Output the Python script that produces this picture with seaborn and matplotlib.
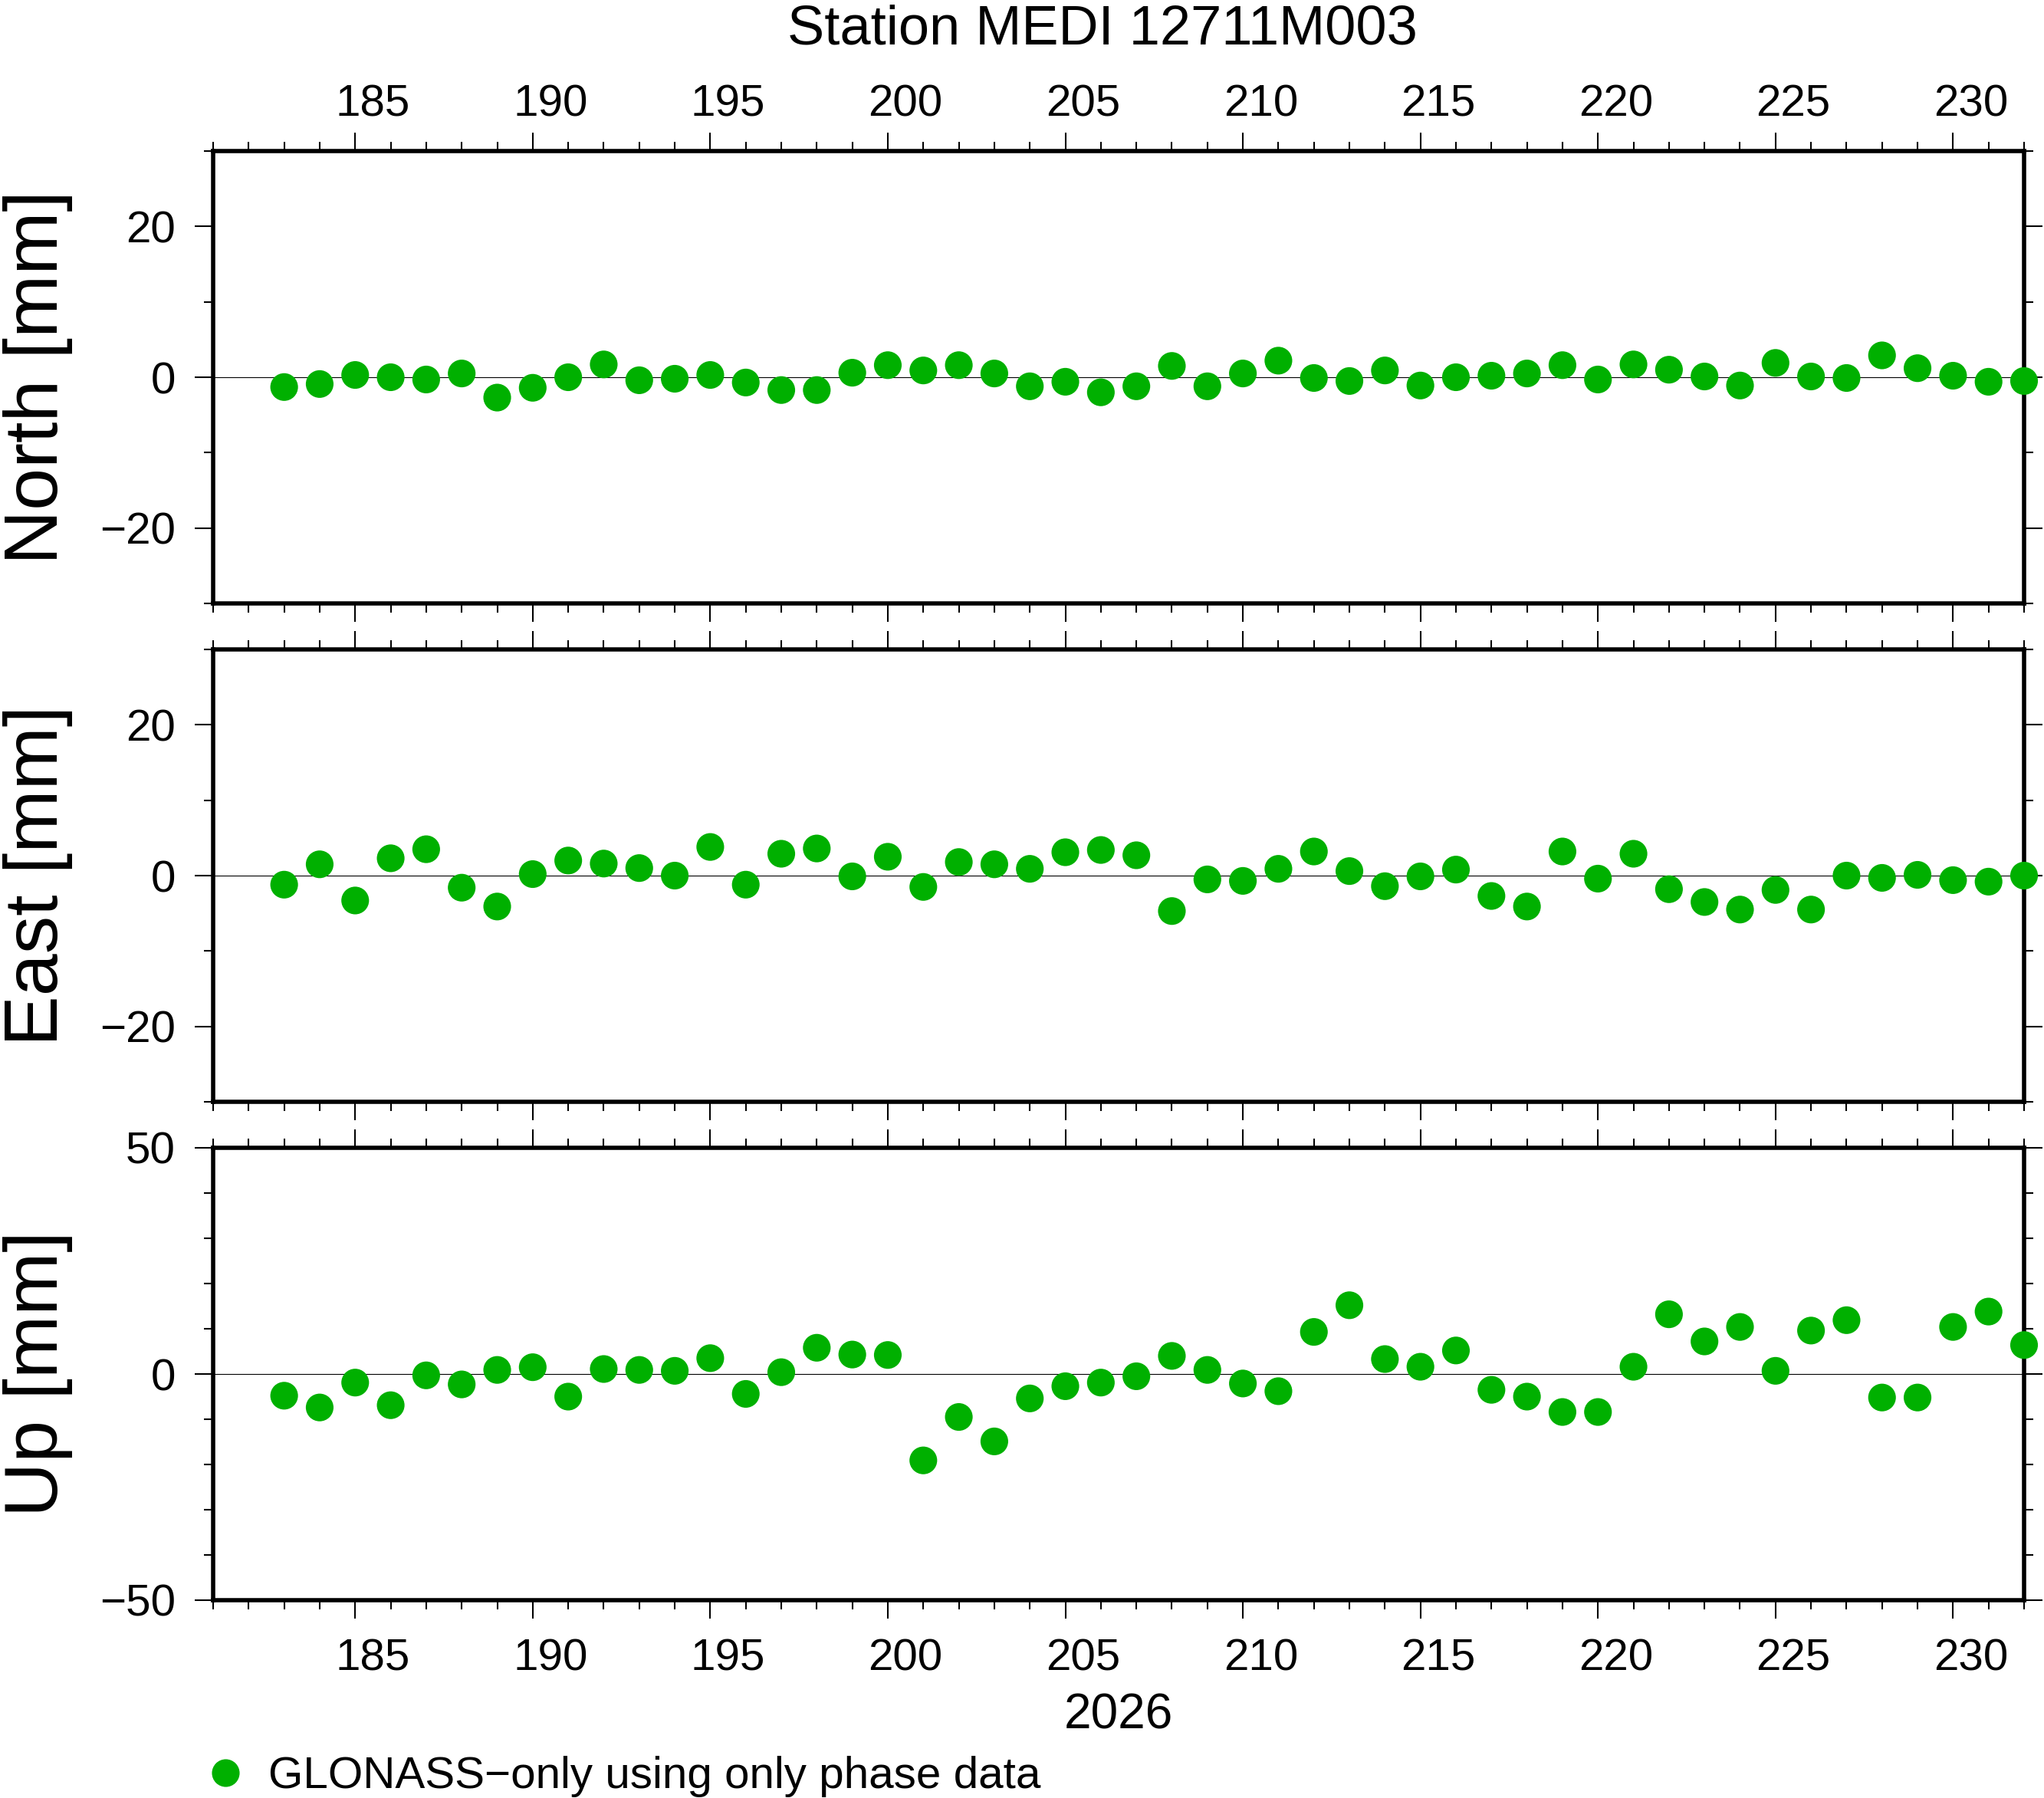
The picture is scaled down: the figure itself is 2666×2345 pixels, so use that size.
import matplotlib
matplotlib.use("Agg")
import matplotlib.pyplot as plt
from matplotlib.ticker import MultipleLocator
from matplotlib.lines import Line2D
from matplotlib.transforms import ScaledTranslation
import seaborn as sns
import pandas as pd

# day of year 2026
doy = [183, 184, 185, 186, 187, 188, 189, 190, 191, 192,
       193, 194, 195, 196, 197, 198, 199, 200, 201, 202,
       203, 204, 205, 206, 207, 208, 209, 210, 211, 212,
       213, 214, 215, 216, 217, 218, 219, 220, 221, 222,
       223, 224, 225, 226, 227, 228, 229, 230, 231, 232]

north = [-1.3, -0.9, 0.3, 0.0, -0.3, 0.5, -2.7, -1.4, 0.0, 1.7,
         -0.4, -0.2, 0.3, -0.7, -1.7, -1.7, 0.6, 1.6, 0.9, 1.6,
         0.5, -1.2, -0.6, -2.0, -1.2, 1.5, -1.2, 0.5, 2.2, -0.1,
         -0.5, 0.9, -1.1, 0.0, 0.2, 0.5, 1.6, -0.3, 1.7, 1.0,
         0.1, -1.1, 1.9, 0.1, -0.1, 2.9, 1.2, 0.2, -0.6, -0.5]

east = [-1.2, 1.5, -3.3, 2.3, 3.5, -1.6, -4.1, 0.2, 2.0, 1.6,
        1.0, 0.0, 3.8, -1.2, 2.9, 3.6, -0.1, 2.5, -1.5, 1.8,
        1.5, 0.9, 3.1, 3.4, 2.7, -4.7, -0.5, -0.7, 0.9, 3.2,
        0.6, -1.4, -0.1, 0.8, -2.7, -4.1, 3.2, -0.4, 2.9, -1.8,
        -3.5, -4.5, -1.9, -4.5, 0.0, -0.3, 0.1, -0.6, -0.8, 0.0]

up = [-4.8, -7.4, -1.9, -6.9, -0.3, -2.3, 0.9, 1.5, -5.0, 1.1,
      0.9, 0.7, 3.5, -4.4, 0.4, 5.8, 4.3, 4.2, -19.1, -9.5,
      -14.9, -5.4, -2.7, -1.9, -0.5, 4.0, 0.9, -2.1, -3.8, 9.3,
      15.2, 3.3, 1.6, 5.2, -3.5, -5.0, -8.4, -8.4, 1.6, 13.2,
      7.2, 10.4, 0.7, 9.6, 11.9, -5.2, -5.2, 10.4, 13.8, 6.4]

components = ['North', 'East', 'Up']
ylims = [(-30, 30), (-30, 30), (-50, 50)]
ymajor = [20, 20, 50]
yminor = [10, 10, 10]
legend_label = 'GLONASS\u2212only using only phase data'
green = '#00b000'

df = pd.DataFrame({'doy': doy, 'North': north, 'East': east, 'Up': up})

sns.set_theme(style='ticks')
plt.rcParams['font.family'] = ['Liberation Sans', 'DejaVu Sans']
plt.rcParams['axes.unicode_minus'] = True
for key in ['text.color', 'axes.labelcolor', 'xtick.color', 'ytick.color',
            'xtick.labelcolor', 'ytick.labelcolor', 'axes.edgecolor']:
    plt.rcParams[key] = 'black'

W, H = 2666, 2345
fig = plt.figure(figsize=(W / 100, H / 100), dpi=100)

left = 278 / W
width = (2640 - 278) / W
tops = [197, 847, 1497]
ph = 590

axes = []
for i, comp in enumerate(components):
    bottom = 1 - (tops[i] + ph) / H
    ax = fig.add_axes([left, bottom, width, ph / H])
    ax.axhline(0, color='black', lw=0.8, zorder=1)
    sns.scatterplot(data=df, x='doy', y=comp, ax=ax, color=green, s=676,
                    edgecolor='none', linewidth=0, zorder=5, legend=False)
    ax.collections[-1].set_clip_on(False)
    ax.set_xlim(181, 232)
    ax.set_ylim(*ylims[i])
    ax.xaxis.set_major_locator(MultipleLocator(5))
    ax.xaxis.set_minor_locator(MultipleLocator(1))
    ax.yaxis.set_major_locator(MultipleLocator(ymajor[i]))
    ax.yaxis.set_minor_locator(MultipleLocator(yminor[i]))
    for sp in ax.spines.values():
        sp.set_visible(True)
        sp.set_linewidth(4)
        sp.set_color('black')
    ax.tick_params(which='both', direction='out', top=True, right=True,
                   bottom=True, left=True, color='black', width=1.5)
    ax.tick_params(which='major', length=17.5, labelsize=42,
                   labelcolor='black')
    ax.tick_params(which='minor', length=8.6)
    ax.tick_params(axis='x', pad=16)
    ax.tick_params(axis='y', pad=18)
    ax.tick_params(axis='x', labeltop=(i == 0), labelbottom=(i == 2))
    ax.set_xlabel('')
    ax.set_ylabel(f'{comp} [mm]', fontsize=71, color='black')
    ax.yaxis.set_label_coords(-0.0775, 0.5)
    ax.grid(False)
    axes.append(ax)

axes[2].set_xlabel('2026', fontsize=46, labelpad=12, color='black')

fig.text(1438 / W, 1 - 57 / H, 'Station MEDI 12711M003', ha='center',
         va='baseline', fontsize=52, color='black')

handle = Line2D([], [], marker='o', linestyle='none', color=green,
                markersize=26, markeredgewidth=0)
fig.legend(handles=[handle], labels=[legend_label], loc='center left',
           bbox_to_anchor=(265 / W, 1 - 2317 / H), frameon=False,
           borderpad=0, borderaxespad=0, handlelength=1.0,
           handletextpad=0.45, fontsize=42)

# day labels sit in the middle of the day interval
fig.canvas.draw()
half_day = (2640 - 278) / 51 / 2 / 100
for i, ax in enumerate(axes):
    for t in ax.xaxis.get_major_ticks():
        t.label1.set_transform(t.label1.get_transform() +
                               ScaledTranslation(half_day, -0.03, fig.dpi_scale_trans))
        t.label2.set_transform(t.label2.get_transform() +
                               ScaledTranslation(half_day, -0.13, fig.dpi_scale_trans))

fig.savefig('out.png', dpi=100, facecolor='white')
